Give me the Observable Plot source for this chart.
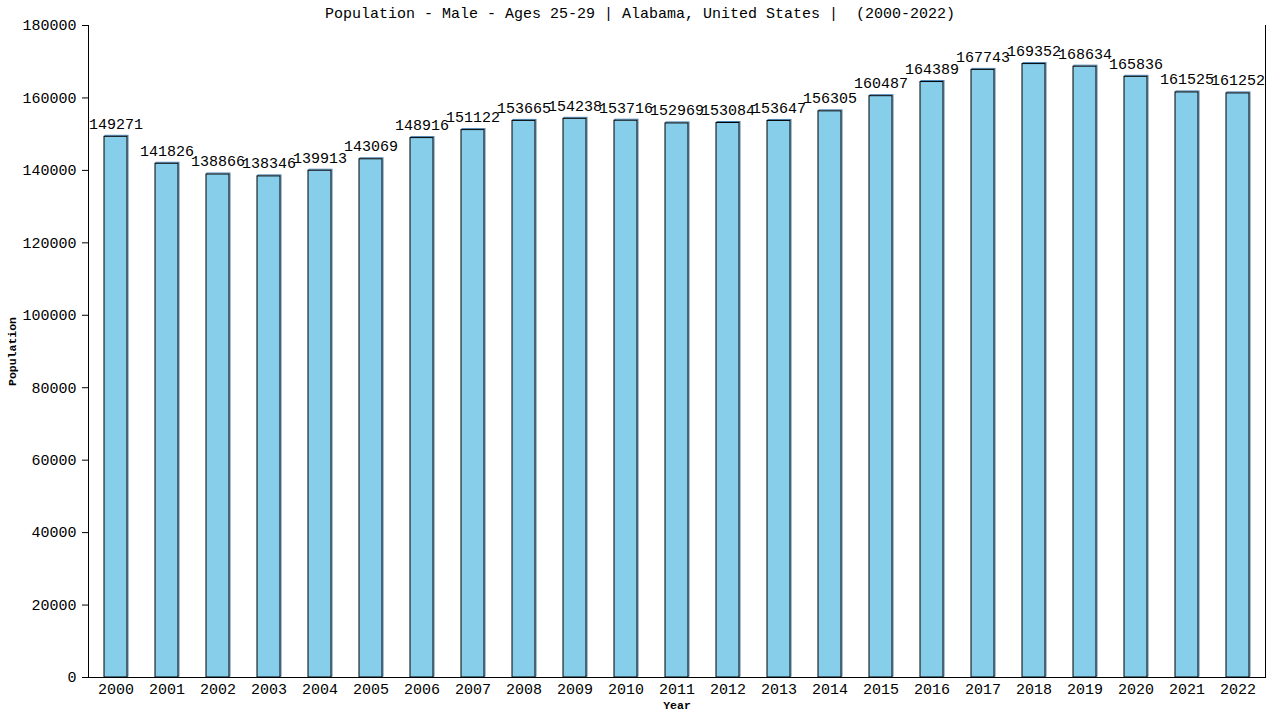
<!DOCTYPE html>
<html>
<head>
<meta charset="utf-8">
<script src="https://cdn.jsdelivr.net/npm/d3@7"></script>
<script src="https://cdn.jsdelivr.net/npm/@observablehq/plot@0.6"></script>
<style>
  html, body { margin: 0; padding: 0; background: #fff; }
  #wrap { position: relative; width: 1280px; height: 720px; }
  #title { position: absolute; left: 0; top: 6px; width: 1280px; text-align: center; z-index: 2;
           font-family: "Liberation Mono", monospace; font-size: 15px; color: #000; white-space: pre; }
</style>
</head>
<body>
<div id="wrap">
  <div id="title">Population - Male - Ages 25-29 | Alabama, United States |  (2000-2022)</div>
</div>
<script>
const years = ["2000","2001","2002","2003","2004","2005","2006","2007","2008","2009","2010","2011","2012","2013","2014","2015","2016","2017","2018","2019","2020","2021","2022"];
const population = [149271,141826,138866,138346,139913,143069,148916,151122,153665,154238,153716,152969,153084,153647,156305,160487,164389,167743,169352,168634,165836,161525,161252];
const yTicks = [0,20000,40000,60000,80000,100000,120000,140000,160000,180000];

const data = years.map((y, i) => ({year: y, value: population[i]}));

const chart = Plot.plot({
  width: 1280,
  height: 720,
  marginTop: 25,
  marginBottom: 43,
  marginLeft: 88,
  marginRight: 15,
  style: {fontFamily: "Liberation Mono, monospace", fontSize: "15px", color: "#000", background: "#fff"},
  x: {domain: years, paddingInner: 0.54, paddingOuter: 0.27, label: null},
  y: {domain: [0, 180000], label: null},
  marks: [
    Plot.barY(data, {x: "year", y: "value", fill: "none", stroke: "#4682b4", strokeWidth: 1, dx: 1, dy: -1}),
    Plot.barY(data, {x: "year", y: "value", fill: "#87ceeb", stroke: "#000", strokeWidth: 1}),
    Plot.text(data, {x: "year", y: "value", text: d => String(d.value), lineAnchor: "bottom", dy: -8, fontSize: 15}),
    Plot.axisY({ticks: yTicks, tickFormat: d => String(d), tickSize: 6, tickPadding: 6, label: null, fontSize: 15}),
    Plot.axisX({tickSize: 0, tickPadding: 6, label: null, fontSize: 15}),
    Plot.ruleY([0], {stroke: "#000"}),
    Plot.frame({anchor: "left", stroke: "#000"}),
    Plot.frame({anchor: "right", stroke: "#000"}),
    Plot.text(["Year"], {frameAnchor: "bottom", dy: 31, fontWeight: "bold", fontSize: 11.5}),
    Plot.text(["Population"], {frameAnchor: "left", textAnchor: "middle", dx: -76, rotate: -90, fontWeight: "bold", fontSize: 11.5})
  ]
});
document.getElementById("wrap").appendChild(chart);
chart.style.position = "absolute";
chart.style.left = "0";
chart.style.top = "0";
</script>
</body>
</html>
